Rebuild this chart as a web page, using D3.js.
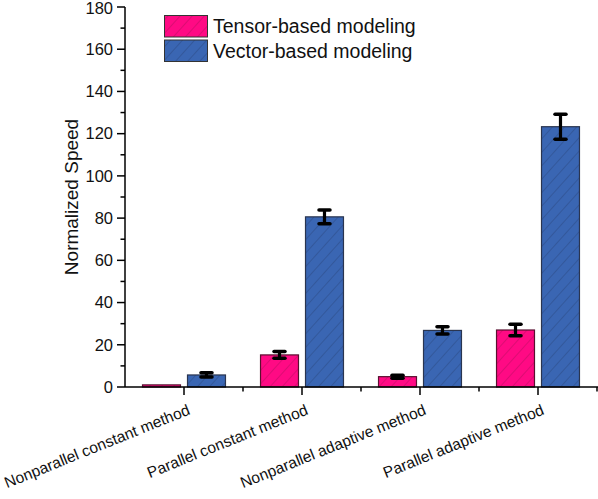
<!DOCTYPE html>
<html><head><meta charset="utf-8">
<script src="https://cdn.jsdelivr.net/npm/d3@7"></script>
<style>body{margin:0;background:#fff}svg{font-family:"Liberation Sans",Arial,sans-serif}</style>
</head><body>
<svg id="c" width="598" height="499"></svg>
<script>
const categories = ["Nonparallel constant method","Parallel constant method","Nonparallel adaptive method","Parallel adaptive method"];
const seriesNames = ["Tensor-based modeling","Vector-based modeling"];
const tensorValues = [1.0, 15.2, 4.9, 27.0];
const tensorErrors = [0.15, 1.6, 0.7, 2.7];
const vectorValues = [5.7, 80.6, 26.8, 123.3];
const vectorErrors = [1.0, 3.3, 1.7, 5.9];
const yTicks = [0,20,40,60,80,100,120,140,160,180];
const colors = ["#FF0A84","#3A66B3"];

const svg = d3.select("#c");
const L = 125, R = 597, T = 7, B = 387;
const y = d3.scaleLinear().domain([0,180]).range([B,T]);
const x = d3.scaleBand().domain(categories).range([L,R]).paddingInner(0.297).paddingOuter(0.1485);
const xs = d3.scaleBand().domain(seriesNames).range([0,x.bandwidth()]).paddingInner(0.156);

const defs = svg.append("defs");
colors.forEach((c,i)=>{
  const p = defs.append("pattern").attr("id","h"+i).attr("patternUnits","userSpaceOnUse")
    .attr("width",9).attr("height",9).attr("patternTransform","rotate(42)");
  p.append("rect").attr("width",9).attr("height",9).attr("fill",c);
  p.append("line").attr("x1",0).attr("y1",0).attr("x2",0).attr("y2",9)
    .attr("stroke", i===0?"#7a1040":"#1c2f55").attr("stroke-width",0.7).attr("opacity",0.75);
});

const data = [];
categories.forEach((c,ci)=>{
  data.push({c, s:0, v:tensorValues[ci], e:tensorErrors[ci]});
  data.push({c, s:1, v:vectorValues[ci], e:vectorErrors[ci]});
});

svg.selectAll("rect.bar").data(data).join("rect").attr("class","bar")
  .attr("x",d=>x(d.c)+xs(seriesNames[d.s]))
  .attr("width",xs.bandwidth())
  .attr("y",d=>y(d.v))
  .attr("height",d=>y(0)-y(d.v))
  .attr("fill",d=>`url(#h${d.s})`)
  .attr("stroke",d=>d.s===0?"#5a1030":"#2a3550").attr("stroke-width",1.2);

// error bars
const eb = svg.selectAll("g.eb").data(data.filter(d=>d.e>0.3)).join("g").attr("class","eb");
const cx = d=>x(d.c)+xs(seriesNames[d.s])+xs.bandwidth()/2;
eb.append("line").attr("x1",cx).attr("x2",cx).attr("y1",d=>y(d.v+d.e)).attr("y2",d=>y(d.v-d.e))
  .attr("stroke","#000").attr("stroke-width",3.2);
["+","-"].forEach(sg=>{
  eb.append("line").attr("x1",d=>cx(d)-5.5).attr("x2",d=>cx(d)+5.5)
    .attr("y1",d=>y(sg==="+"?d.v+d.e:d.v-d.e)).attr("y2",d=>y(sg==="+"?d.v+d.e:d.v-d.e))
    .attr("stroke","#000").attr("stroke-width",3.5).attr("stroke-linecap","round");
});

// y axis
const ya = svg.append("g");
ya.append("line").attr("x1",L).attr("x2",L).attr("y1",B).attr("y2",T).attr("stroke","#000").attr("stroke-width",1.5);
const minorY = d3.range(10,180,20);
ya.selectAll("line.mj").data(yTicks).join("line").attr("class","mj")
  .attr("x1",L-8).attr("x2",L).attr("y1",d=>y(d)).attr("y2",d=>y(d)).attr("stroke","#000").attr("stroke-width",1.5);
ya.selectAll("line.mn").data(minorY).join("line").attr("class","mn")
  .attr("x1",L-4.5).attr("x2",L).attr("y1",d=>y(d)).attr("y2",d=>y(d)).attr("stroke","#000").attr("stroke-width",1.5);
ya.selectAll("text").data(yTicks).join("text")
  .attr("x",L-12).attr("y",d=>Math.max(y(d),8)).attr("dy","0.35em").attr("text-anchor","end")
  .attr("font-size",16.5).attr("fill","#111").text(d=>d);
svg.append("text").attr("transform",`translate(78,${(T+B)/2}) rotate(-90)`)
  .attr("text-anchor","middle").attr("font-size",19).attr("fill","#111").text("Normalized Speed");

// x axis
const xa = svg.append("g");
xa.append("line").attr("x1",L).attr("x2",R+1).attr("y1",B).attr("y2",B).attr("stroke","#000").attr("stroke-width",1.5);
xa.selectAll("line.mj").data(categories).join("line").attr("class","mj")
  .attr("x1",d=>x(d)+x.bandwidth()/2).attr("x2",d=>x(d)+x.bandwidth()/2)
  .attr("y1",B).attr("y2",B+8).attr("stroke","#000").attr("stroke-width",1.5);
const bounds = categories.map((d,i)=>i+1);
xa.selectAll("line.mn").data(bounds).join("line").attr("class","mn")
  .attr("x1",i=>L+x.step()*i).attr("x2",i=>L+x.step()*i)
  .attr("y1",B).attr("y2",B+4.5).attr("stroke","#000").attr("stroke-width",1.5);
xa.selectAll("text").data(categories).join("text")
  .attr("transform",d=>`translate(${x(d)+x.bandwidth()/2+7},${B+27}) rotate(-22)`)
  .attr("text-anchor","end").attr("font-size",15.6).attr("fill","#111").text(d=>d);

// legend
const lg = svg.append("g");
seriesNames.forEach((s,i)=>{
  lg.append("rect").attr("x",164.5).attr("y",15.5+i*24.5).attr("width",43).attr("height",21.5)
    .attr("fill",`url(#h${i})`).attr("stroke","#333").attr("stroke-width",1);
  lg.append("text").attr("x",213).attr("y",26.5+i*24.5).attr("dy","0.35em")
    .attr("font-size",19.5).attr("fill","#111").text(s);
});
</script>
</body></html>
